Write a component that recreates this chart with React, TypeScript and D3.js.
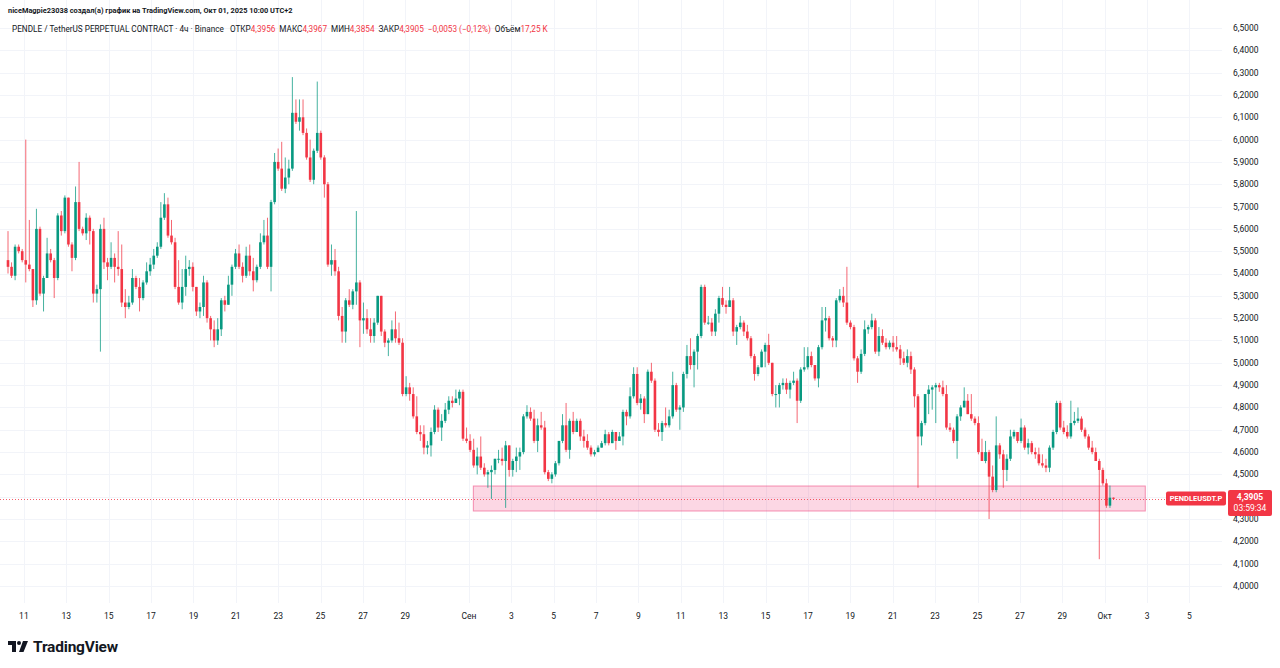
import React from 'react';
import * as d3 from 'd3';

// 4h candles, Aug 10 06:00 -> Oct 1 10:00 (UTC+2). open = previous close
const firstOpen = 5.46;

const closes = [
  5.43, 5.39, 5.52, 5.50, 5.46, 5.44, 5.42, 5.28, 5.60, 5.31,
  5.38, 5.49, 5.46, 5.38, 5.66, 5.59, 5.74, 5.53, 5.47, 5.72,
  5.60, 5.58, 5.65, 5.59, 5.31, 5.33, 5.60, 5.45,
  5.43, 5.47, 5.43, 5.42, 5.27, 5.25, 5.27, 5.38, 5.34, 5.29,
  5.36, 5.41, 5.44, 5.48, 5.52, 5.65, 5.71, 5.57, 5.54, 5.34,
  5.27, 5.34, 5.42, 5.43, 5.34, 5.23, 5.25, 5.36,
  5.20, 5.15, 5.10, 5.15, 5.28, 5.26, 5.35, 5.43, 5.49, 5.43,
  5.39, 5.48, 5.41, 5.37, 5.43, 5.54, 5.57, 5.43, 5.72, 5.90,
  5.87, 5.78, 5.83, 5.87, 6.12, 6.08, 6.10, 6.03, 5.92,
  5.82, 5.95, 6.03, 5.92, 5.80, 5.44, 5.46, 5.41, 5.21, 5.14,
  5.28, 5.26, 5.32, 5.36, 5.19, 5.20, 5.15, 5.12, 5.18, 5.30,
  5.14, 5.09, 5.10, 5.15, 5.11, 5.09, 4.86, 4.89,
  4.86, 4.76, 4.69, 4.68, 4.62, 4.63, 4.69, 4.79, 4.71, 4.74,
  4.79, 4.83, 4.82, 4.84, 4.87, 4.66, 4.65, 4.61, 4.54, 4.58,
  4.53, 4.50, 4.51, 4.52, 4.57, 4.57, 4.56, 4.63,
  4.52, 4.56, 4.58,
  4.60, 4.76, 4.78, 4.75, 4.65, 4.72, 4.71, 4.51, 4.48,
  4.50, 4.55, 4.65, 4.72, 4.61, 4.74, 4.69, 4.74, 4.67, 4.65,
  4.62, 4.59, 4.60, 4.62, 4.64, 4.68, 4.64, 4.69, 4.65, 4.67,
  4.78, 4.76, 4.85, 4.95, 4.82, 4.84, 4.77, 4.96, 4.92, 4.70,
  4.69, 4.73, 4.72,
  4.76, 4.90, 4.79, 4.80, 4.95, 5.03, 4.99, 5.05, 5.12, 5.34,
  5.18, 5.18, 5.14, 5.22, 5.29, 5.26, 5.25,
  5.28, 5.14, 5.16, 5.18, 5.14, 5.11, 5.03, 4.95, 4.98, 5.05,
  5.08, 5.00, 4.86, 4.86, 4.90, 4.91, 4.88, 4.91, 4.92, 4.83,
  4.97, 4.98,
  5.03, 4.99,
  4.93, 5.07, 5.19, 5.20, 5.11, 5.10, 5.28, 5.30, 5.27, 5.18, 5.16,
  5.02, 4.96, 5.04, 5.15, 5.16, 5.19, 5.05, 5.12, 5.09, 5.07,
  5.09, 5.07, 5.06, 5.02, 5.00, 5.03, 4.97, 4.85, 4.67, 4.73, 4.86,
  4.88, 4.89,
  4.90, 4.89, 4.86, 4.71, 4.70, 4.65, 4.76, 4.80, 4.83, 4.77,
  4.75, 4.73, 4.60, 4.56, 4.60, 4.49, 4.43, 4.63, 4.59, 4.52,
  4.57, 4.67, 4.69, 4.65, 4.71, 4.62, 4.64, 4.60, 4.59, 4.55,
  4.54, 4.53, 4.62, 4.69, 4.82, 4.71, 4.69, 4.67, 4.73, 4.74,
  4.75, 4.70, 4.67, 4.62, 4.60, 4.56, 4.52, 4.46, 4.36, 4.3956, 4.3905,
];

const highs = [
  5.59, 5.45, 5.53, 5.53, 5.51, 6.00, 5.64, 5.42, 5.69, 5.61,
  5.39, 5.56, 5.51, 5.47, 5.67, 5.68, 5.75, 5.73, 5.54, 5.79,
  5.90, 5.61, 5.67, 5.66, 5.60, 5.35, 5.62, 5.65,
  5.47, 5.54, 5.49, 5.59, 5.53, 5.33, 5.30, 5.42, 5.39, 5.38,
  5.37, 5.45, 5.47, 5.51, 5.54, 5.72, 5.76, 5.74, 5.64, 5.56,
  5.46, 5.42, 5.48, 5.46, 5.45, 5.34, 5.27, 5.39,
  5.37, 5.21, 5.19, 5.20, 5.29, 5.30, 5.39, 5.44, 5.51, 5.53,
  5.45, 5.52, 5.53, 5.47, 5.44, 5.58, 5.64, 5.65, 5.73, 5.94,
  5.96, 5.99, 5.92, 5.91, 6.28, 6.18, 6.18, 6.18, 6.05,
  6.00, 5.96, 6.26, 6.04, 5.93, 5.81, 5.53, 5.51, 5.43, 5.25,
  5.29, 5.33, 5.33, 5.68, 5.37, 5.27, 5.24, 5.20, 5.20, 5.30,
  5.30, 5.15, 5.11, 5.19, 5.23, 5.18, 5.11, 4.94,
  4.91, 4.89, 4.85, 4.72, 4.72, 4.65, 4.71, 4.81, 4.80, 4.77,
  4.82, 4.85, 4.85, 4.88, 4.88, 4.88, 4.71, 4.68, 4.66, 4.62,
  4.67, 4.55, 4.52, 4.54, 4.57, 4.61, 4.62, 4.65,
  4.59, 4.57, 4.62,
  4.62, 4.77, 4.81, 4.80, 4.79, 4.75, 4.78, 4.74, 4.52,
  4.51, 4.56, 4.65, 4.77, 4.82, 4.75, 4.78, 4.75, 4.75, 4.70,
  4.68, 4.63, 4.61, 4.63, 4.65, 4.70, 4.69, 4.70, 4.69, 4.69,
  4.79, 4.79, 4.89, 4.98, 4.98, 4.86, 4.85, 4.97, 5.00, 4.93,
  4.73, 4.74, 4.80,
  4.79, 4.96, 4.91, 4.81, 4.96, 5.08, 5.11, 5.06, 5.13, 5.35,
  5.35, 5.21, 5.20, 5.24, 5.30, 5.34, 5.28,
  5.34, 5.29, 5.17, 5.21, 5.19, 5.17, 5.12, 5.04, 4.99, 5.06,
  5.09, 5.13, 5.00, 4.90, 4.91, 4.93, 4.93, 4.92, 4.96, 4.93,
  4.98, 5.07,
  5.07, 5.05,
  4.99, 5.08, 5.25, 5.25, 5.21, 5.12, 5.29, 5.33, 5.34, 5.43, 5.19,
  5.17, 5.03, 5.06, 5.19, 5.17, 5.22, 5.20, 5.16, 5.15, 5.11,
  5.10, 5.12, 5.12, 5.08, 5.05, 5.06, 5.05, 4.98, 4.86, 4.74, 4.86,
  4.90, 4.90,
  4.91, 4.91, 4.92, 4.90, 4.73, 4.71, 4.77, 4.81, 4.89, 4.86,
  4.86, 4.76, 4.76, 4.66, 4.65, 4.61, 4.54, 4.76, 4.64, 4.61,
  4.59, 4.70, 4.70, 4.69, 4.75, 4.72, 4.66, 4.65, 4.62, 4.62,
  4.59, 4.57, 4.63, 4.70, 4.83, 4.83, 4.74, 4.72, 4.83, 4.78,
  4.80, 4.76, 4.71, 4.68, 4.65, 4.62, 4.57, 4.53, 4.48, 4.45, 4.3967,
];

const lows = [
  5.40, 5.38, 5.37, 5.49, 5.45, 5.36, 5.41, 5.25, 5.26, 5.30,
  5.23, 5.38, 5.45, 5.29, 5.37, 5.57, 5.58, 5.52, 5.41, 5.46,
  5.59, 5.57, 5.55, 5.53, 5.27, 5.27, 5.05, 5.42,
  5.37, 5.42, 5.36, 5.39, 5.25, 5.20, 5.24, 5.26, 5.33, 5.23,
  5.28, 5.35, 5.39, 5.42, 5.47, 5.51, 5.64, 5.56, 5.53, 5.33,
  5.26, 5.24, 5.30, 5.39, 5.32, 5.21, 5.20, 5.21,
  5.18, 5.10, 5.07, 5.08, 5.12, 5.23, 5.27, 5.30, 5.42, 5.42,
  5.36, 5.38, 5.39, 5.32, 5.36, 5.42, 5.53, 5.42, 5.32, 5.71,
  5.86, 5.77, 5.76, 5.80, 5.86, 6.07, 6.04, 6.02, 5.91,
  5.81, 5.80, 5.94, 5.91, 5.74, 5.43, 5.39, 5.39, 5.19, 5.09,
  5.09, 5.25, 5.24, 5.26, 5.07, 5.13, 5.13, 5.09, 5.09, 5.17,
  5.12, 5.07, 5.03, 5.09, 5.09, 5.08, 4.85, 4.85,
  4.83, 4.75, 4.68, 4.65, 4.59, 4.59, 4.58, 4.68, 4.69, 4.65,
  4.73, 4.77, 4.80, 4.82, 4.81, 4.65, 4.64, 4.60, 4.53, 4.50,
  4.52, 4.49, 4.44, 4.39, 4.50, 4.55, 4.54, 4.35,
  4.49, 4.49, 4.51,
  4.52, 4.59, 4.75, 4.74, 4.64, 4.60, 4.70, 4.50, 4.47,
  4.46, 4.49, 4.54, 4.64, 4.60, 4.57, 4.68, 4.69, 4.65, 4.62,
  4.61, 4.58, 4.58, 4.60, 4.62, 4.63, 4.63, 4.64, 4.61, 4.65,
  4.63, 4.72, 4.75, 4.84, 4.81, 4.79, 4.73, 4.77, 4.91, 4.69,
  4.67, 4.65, 4.71,
  4.71, 4.75, 4.78, 4.70, 4.78, 4.93, 4.97, 4.89, 4.97, 5.11,
  5.17, 5.17, 5.12, 5.12, 5.18, 5.25, 5.22,
  5.25, 5.12, 5.08, 5.15, 5.12, 5.10, 5.02, 4.92, 4.94, 4.98,
  4.98, 4.99, 4.85, 4.80, 4.80, 4.88, 4.86, 4.84, 4.90, 4.73,
  4.82, 4.96,
  4.97, 4.98,
  4.92, 4.89, 5.06, 5.14, 5.10, 5.07, 5.07, 5.27, 5.25, 5.17, 5.15,
  5.01, 4.91, 4.95, 5.03, 5.13, 5.15, 5.04, 5.03, 5.08, 5.06,
  5.06, 5.05, 5.05, 4.99, 4.99, 4.98, 4.95, 4.80, 4.44, 4.63, 4.72,
  4.77, 4.79,
  4.73, 4.87, 4.85, 4.70, 4.69, 4.64, 4.57, 4.74, 4.80, 4.77,
  4.74, 4.72, 4.59, 4.56, 4.55, 4.30, 4.42, 4.42, 4.57, 4.44,
  4.47, 4.56, 4.66, 4.64, 4.64, 4.61, 4.59, 4.59, 4.57, 4.54,
  4.53, 4.51, 4.51, 4.61, 4.68, 4.70, 4.68, 4.66, 4.66, 4.72,
  4.73, 4.69, 4.66, 4.61, 4.59, 4.56, 4.12, 4.45, 4.35, 4.35, 4.3854,
];

const priceTicks = [
  4.0, 4.1, 4.2, 4.3, 4.4, 4.5, 4.6, 4.7, 4.8, 4.9, 5.0, 5.1, 5.2,
  5.3, 5.4, 5.5, 5.6, 5.7, 5.8, 5.9, 6.0, 6.1, 6.2, 6.3, 6.4, 6.5,
];

// [month (0-based), day, label]
const dateTicks: [number, number, string][] = [
  [7, 11, '11'], [7, 13, '13'], [7, 15, '15'], [7, 17, '17'], [7, 19, '19'],
  [7, 21, '21'], [7, 23, '23'], [7, 25, '25'], [7, 27, '27'], [7, 29, '29'],
  [8, 1, 'Сен'], [8, 3, '3'], [8, 5, '5'], [8, 7, '7'], [8, 9, '9'],
  [8, 11, '11'], [8, 13, '13'], [8, 15, '15'], [8, 17, '17'], [8, 19, '19'],
  [8, 21, '21'], [8, 23, '23'], [8, 25, '25'], [8, 27, '27'], [8, 29, '29'],
  [9, 1, 'Окт'], [9, 3, '3'], [9, 5, '5'],
];

const lastPrice = 4.3905;
const zonePrices = [4.336, 4.448];
const zoneTimes = [Date.UTC(2025, 8, 1, 5), Date.UTC(2025, 9, 2, 22)];

const headerStats: [string, string][] = [
  ['ОТКР', '4,3956'],
  ['МАКС', '4,3967'],
  ['МИН', '4,3854'],
  ['ЗАКР', '4,3905'],
];

const UP = '#089981';
const DOWN = '#F23645';
const TEXT = '#131722';
const GRID = '#f2f4f9';
const FONT = 'Roboto, "Liberation Sans", Arial, sans-serif';

const fmt = (v: number) => v.toFixed(4).replace('.', ',');

const App: React.FC = () => {
  const width = 1280;
  const height = 668;
  const plotLeft = 8;
  const plotRight = 1113.5;
  const paneRight = 1222;
  const paneBottom = 603;

  const n = Math.min(closes.length, highs.length, lows.length);
  const candles = d3.range(n).map((i) => {
    const o = i === 0 ? firstOpen : closes[i - 1];
    const c = closes[i];
    return {
      i,
      o,
      c,
      h: d3.max([highs[i], o, c]) as number,
      l: d3.min([lows[i], o, c]) as number,
    };
  });

  const x = d3.scaleLinear().domain([0, n - 1]).range([plotLeft, plotRight]);
  const xt = d3
    .scaleTime()
    .domain([new Date(Date.UTC(2025, 7, 10, 6)), new Date(Date.UTC(2025, 9, 1, 10))])
    .range([plotLeft, plotRight]);
  const y = d3.scaleLinear().domain([4.0, 6.5]).range([586, 28]);

  const bodyW = 2.6;
  const lastY = y(lastPrice);
  // the price label hides the axis label it sits on
  const axisTicks = priceTicks.filter((p) => Math.abs(y(p) - lastY) > 14);

  return (
    <svg
      width={width}
      height={height}
      style={{ position: 'absolute', left: 0, top: 0, background: '#fff' }}
      fontFamily={FONT}
    >
      <rect x={0} y={0} width={width} height={height} fill="#fff" />

      {/* grid */}
      {priceTicks.map((p) => (
        <line key={'h' + p} x1={0} x2={paneRight} y1={Math.round(y(p)) + 0.5} y2={Math.round(y(p)) + 0.5} stroke={GRID} />
      ))}
      {dateTicks.map(([m, d, lab]) => {
        const px = Math.round(xt(new Date(Date.UTC(2025, m, d)))) + 0.5;
        return <line key={'v' + m + '-' + d + lab} x1={px} x2={px} y1={0} y2={paneBottom} stroke={GRID} />;
      })}

      {/* support zone */}
      <rect
        x={xt(new Date(zoneTimes[0]))}
        y={y(zonePrices[1])}
        width={xt(new Date(zoneTimes[1])) - xt(new Date(zoneTimes[0]))}
        height={y(zonePrices[0]) - y(zonePrices[1])}
        fill="rgba(242, 54, 120, 0.2)"
        stroke="rgba(236, 64, 122, 0.55)"
        strokeWidth={1}
      />

      {/* current price line */}
      <line
        x1={0}
        x2={1166}
        y1={Math.round(lastY) + 0.5}
        y2={Math.round(lastY) + 0.5}
        stroke={DOWN}
        strokeWidth={1}
        strokeDasharray="1,2"
        opacity={0.8}
      />

      {/* candles */}
      <g>
        {candles.map((d) => {
          const col = d.c >= d.o ? UP : DOWN;
          const cx = x(d.i);
          const top = y(Math.max(d.o, d.c));
          const bot = y(Math.min(d.o, d.c));
          return (
            <g key={d.i}>
              <line x1={cx} x2={cx} y1={y(d.h)} y2={y(d.l)} stroke={col} strokeWidth={1} opacity={0.75} />
              <rect x={cx - bodyW / 2} y={top} width={bodyW} height={Math.max(1, bot - top)} fill={col} />
            </g>
          );
        })}
      </g>

      {/* price axis labels */}
      {axisTicks.map((p) => (
        <text key={'t' + p} x={1233} y={y(p)} dy="0.35em" fontSize={8.5} fill={TEXT}>
          {fmt(p)}
        </text>
      ))}

      {/* time axis labels */}
      {dateTicks.map(([m, d, lab]) => (
        <text
          key={'x' + m + '-' + d}
          x={xt(new Date(Date.UTC(2025, m, d)))}
          y={619}
          textAnchor="middle"
          fontSize={8.5}
          fill={TEXT}
        >
          {lab}
        </text>
      ))}

      {/* symbol label + price label */}
      <rect x={1166} y={491.5} width={60} height={14} rx={2} fill={DOWN} />
      <text x={1196} y={498.5} dy="0.35em" textAnchor="middle" fontSize={7.5} fontWeight={700} fill="#fff">
        PENDLEUSDT.P
      </text>
      <rect x={1228} y={490} width={44} height={26} rx={2} fill={DOWN} />
      <text x={1250} y={497.5} dy="0.35em" textAnchor="middle" fontSize={8.5} fontWeight={700} fill="#fff">
        {fmt(lastPrice)}
      </text>
      <text x={1250} y={508.5} dy="0.35em" textAnchor="middle" fontSize={8.5} fill="#fff">
        03:59:34
      </text>

      {/* header */}
      <text x={8} y={10} dy="0.35em" fontSize={7.4} fontWeight={700} fill={TEXT}>
        niceMagpie23038 создал(а) график на TradingView.com, Окт 01, 2025 10:00 UTC+2
      </text>
      <text x={12} y={29} dy="0.35em" fontSize={8.2} fill={TEXT}>
        <tspan>PENDLE / TetherUS PERPETUAL CONTRACT · 4ч · Binance</tspan>
        {headerStats.map(([k, v], idx) => (
          <React.Fragment key={k}>
            <tspan dx={idx === 0 ? 6 : 4}>{k}</tspan>
            <tspan fill={DOWN}>{v}</tspan>
          </React.Fragment>
        ))}
        <tspan dx={4} fill={DOWN}>−0,0053 (−0,12%)</tspan>
        <tspan dx={4}>Объём</tspan>
        <tspan fill={DOWN}>17,25 K</tspan>
      </text>

      {/* TradingView logo */}
      <g transform="translate(8, 641)" fill={TEXT}>
        <path d="M0 0 H8 V11 H4 V4 H0 Z" />
        <circle cx={11} cy={2} r={2} />
        <path d="M15 0 H20 L15.5 11 H11 Z" />
      </g>
      <text x={33} y={652} fontSize={15.5} fontWeight={700} fill={TEXT} letterSpacing={-0.2}>
        TradingView
      </text>
    </svg>
  );
};

export default App;
